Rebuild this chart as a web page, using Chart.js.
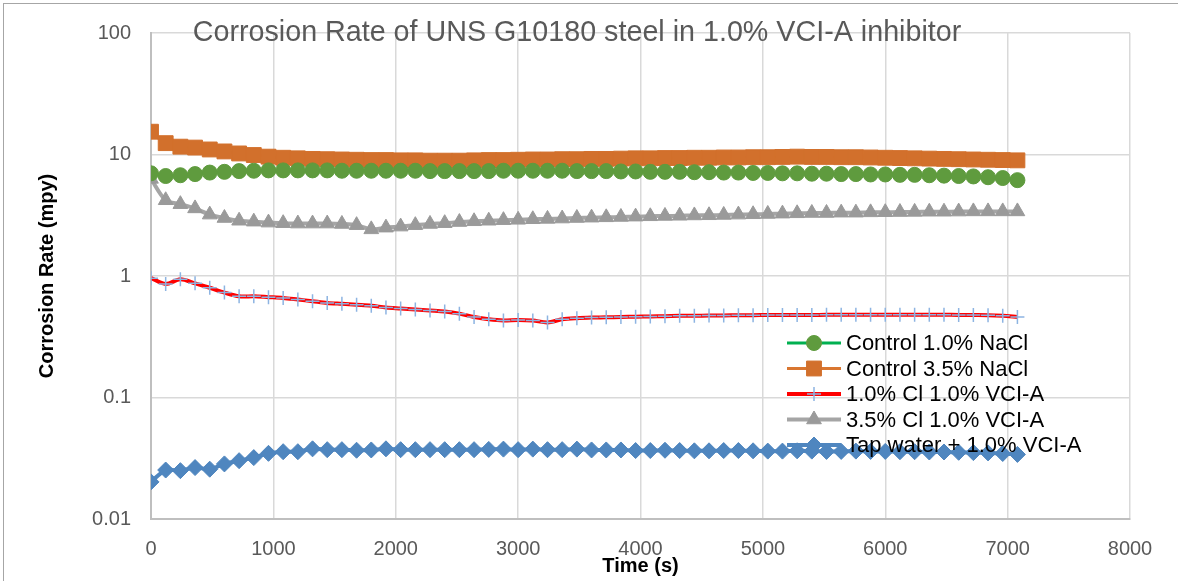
<!DOCTYPE html>
<html><head><meta charset="utf-8">
<script src="https://cdn.jsdelivr.net/npm/chart.js@4.4.0/dist/chart.umd.min.js"></script>
<style>html,body{margin:0;padding:0;background:#fff;}canvas{display:block;}</style>
</head><body>
<canvas id="c" width="1178" height="581"></canvas>
<script>
const chartTitle = 'Corrosion Rate of UNS G10180 steel in 1.0% VCI-A inhibitor';
const xTitle = 'Time (s)';
const yTitle = 'Corrosion Rate (mpy)';
const seriesNames = ['Control 1.0% NaCl','Control 3.5% NaCl','1.0% Cl 1.0% VCI-A','3.5% Cl 1.0% VCI-A','Tap water + 1.0% VCI-A'];
const yTickValues = [0.01, 0.1, 1, 10, 100];
const yTickLabels = ['0.01','0.1','1','10','100'];
const xTickValues = [0,1000,2000,3000,4000,5000,6000,7000,8000];
const xTickLabels = ['0','1000','2000','3000','4000','5000','6000','7000','8000'];
const timeS = [0,120,240,360,480,600,720,840,960,1080,1200,1320,1440,1560,1680,1800,1920,2040,2160,2280,2400,2520,2640,2760,2880,3000,3120,3240,3360,3480,3600,3720,3840,3960,4080,4200,4320,4440,4560,4680,4800,4920,5040,5160,5280,5400,5520,5640,5760,5880,6000,6120,6240,6360,6480,6600,6720,6840,6960,7080];
const control10 = [7.0,6.65,6.75,6.9,7.1,7.2,7.3,7.35,7.4,7.4,7.4,7.4,7.4,7.35,7.35,7.35,7.35,7.35,7.35,7.3,7.3,7.3,7.3,7.3,7.35,7.35,7.35,7.35,7.35,7.3,7.3,7.3,7.25,7.25,7.2,7.2,7.2,7.15,7.15,7.1,7.1,7.05,7.05,7.0,7.0,6.95,6.95,6.9,6.9,6.85,6.85,6.8,6.8,6.75,6.7,6.65,6.6,6.5,6.4,6.15];
const control35 = [15.4,12.4,11.6,11.4,11.0,10.6,10.2,9.9,9.6,9.4,9.3,9.2,9.15,9.1,9.05,9.0,9.0,8.95,8.95,8.9,8.9,8.9,8.95,9.0,9.0,9.05,9.1,9.1,9.15,9.15,9.2,9.2,9.25,9.3,9.3,9.35,9.35,9.4,9.4,9.45,9.45,9.5,9.5,9.55,9.6,9.55,9.55,9.5,9.5,9.45,9.4,9.35,9.3,9.25,9.2,9.15,9.1,9.05,9.0,8.95];
const cl10vci = [0.96,0.86,0.94,0.87,0.80,0.73,0.68,0.68,0.67,0.66,0.64,0.62,0.60,0.59,0.58,0.57,0.55,0.54,0.53,0.52,0.51,0.49,0.46,0.44,0.43,0.435,0.43,0.415,0.44,0.45,0.455,0.457,0.46,0.462,0.465,0.467,0.47,0.47,0.472,0.474,0.475,0.476,0.477,0.478,0.478,0.478,0.479,0.48,0.48,0.48,0.48,0.48,0.48,0.48,0.48,0.478,0.477,0.476,0.47,0.46];
const cl35vci = [6.3,4.2,3.9,3.6,3.2,3.0,2.85,2.8,2.75,2.72,2.7,2.7,2.7,2.68,2.62,2.42,2.5,2.55,2.62,2.68,2.72,2.78,2.82,2.85,2.88,2.9,2.93,2.95,2.97,3.0,3.02,3.04,3.06,3.08,3.1,3.12,3.13,3.15,3.16,3.18,3.2,3.22,3.24,3.26,3.28,3.3,3.3,3.32,3.32,3.34,3.35,3.36,3.37,3.38,3.38,3.39,3.4,3.4,3.4,3.4];
const tapWater = [0.0202,0.0253,0.025,0.0265,0.0257,0.0284,0.0302,0.032,0.0347,0.0358,0.0358,0.0378,0.0372,0.0372,0.0368,0.037,0.0378,0.0372,0.0372,0.0372,0.0372,0.0372,0.0372,0.0374,0.0376,0.0372,0.0376,0.0372,0.0372,0.0376,0.037,0.037,0.037,0.0366,0.0366,0.0368,0.0366,0.0364,0.0364,0.0366,0.0366,0.0364,0.0362,0.0362,0.0364,0.0362,0.036,0.036,0.0362,0.036,0.036,0.0358,0.0358,0.0356,0.0356,0.0354,0.0352,0.035,0.0346,0.034];

const FONT = "'Liberation Sans', Arial, sans-serif";
const toXY = arr => arr.map((v, i) => ({x: timeS[i], y: v}));

const styles = [
  {line:'#00B050', fill:'#5F9B3E', stroke:'#5F9B3E', pointStyle:'circle', r:7.5, lw:3, pbw:1},
  {line:'#D97630', fill:'#D2702C', stroke:'#D2702C', pointStyle:'rect', r:10.5, lw:3, pbw:1},
  {line:'#FF0000', fill:'#9DC3E6', stroke:'#8DB4E2', pointStyle:'cross', r:7, lw:4, pbw:1.5},
  {line:'#A5A5A5', fill:'#9A9A9A', stroke:'#9A9A9A', pointStyle:'triangle', r:8.5, lw:4, pbw:1},
  {line:'#4F86BF', fill:'#4F86BF', stroke:'#4F86BF', pointStyle:'rectRot', r:8, lw:4, pbw:1}
];
const seriesData = [control10, control35, cl10vci, cl35vci, tapWater];

const datasets = seriesData.map((d, k) => ({
  label: seriesNames[k],
  data: toXY(d),
  borderColor: styles[k].line,
  borderWidth: styles[k].lw,
  backgroundColor: styles[k].fill,
  pointBackgroundColor: styles[k].fill,
  pointBorderColor: styles[k].stroke,
  pointBorderWidth: styles[k].pbw,
  pointStyle: styles[k].pointStyle,
  pointRadius: styles[k].r,
  pointHoverRadius: styles[k].r,
  tension: 0.3,
  fill: false
}));

const decor = {
  id: 'decor',
  beforeDraw(chart) {
    const ctx = chart.ctx;
    ctx.save();
    ctx.fillStyle = '#fff';
    ctx.fillRect(0, 0, chart.width, chart.height);
    ctx.strokeStyle = '#A6A6A6';
    ctx.lineWidth = 1;
    ctx.strokeRect(3.5, 3.5, chart.width, chart.height);
    ctx.restore();
  },
  afterDatasetsDraw(chart) {
    const ctx = chart.ctx;
    ctx.save();
    ctx.font = '28.7px ' + FONT;
    ctx.fillStyle = '#595959';
    ctx.textAlign = 'center';
    ctx.textBaseline = 'alphabetic';
    ctx.fillText(chartTitle, 577, 41);
    // legend
    const x0 = 787, x1 = 841, mx = 814, tx = 846;
    const rows = [343, 368.5, 394, 419.5, 445];
    ctx.font = '22px ' + FONT;
    ctx.textAlign = 'left';
    ctx.textBaseline = 'middle';
    chart.data.datasets.forEach((ds, k) => {
      const y = rows[k];
      ctx.strokeStyle = ds.borderColor;
      ctx.lineWidth = ds.borderWidth;
      ctx.beginPath(); ctx.moveTo(x0, y); ctx.lineTo(x1, y); ctx.stroke();
      ctx.fillStyle = ds.pointBackgroundColor;
      ctx.strokeStyle = ds.pointBorderColor;
      ctx.lineWidth = ds.pointBorderWidth;
      Chart.helpers.drawPoint(ctx, {pointStyle: ds.pointStyle, radius: ds.pointRadius, rotation: 0, borderWidth: ds.pointBorderWidth}, mx, y);
      ctx.fillStyle = '#000';
      ctx.fillText(ds.label, tx, y + 1);
    });
    ctx.restore();
  }
};

new Chart(document.getElementById('c'), {
  type: 'line',
  data: {datasets},
  options: {
    responsive: false,
    animation: false,
    devicePixelRatio: 1,
    layout: {padding: {top: 33, right: 48, left: 0, bottom: 0}},
    plugins: {legend: {display: false}, title: {display: false}, tooltip: {enabled: false}},
    scales: {
      x: {
        type: 'linear', min: 0, max: 8000,
        afterBuildTicks(s) { s.ticks = xTickValues.map(v => ({value: v})); },
        ticks: {color: '#595959', font: {family: FONT, size: 20}, padding: 18, maxRotation: 0,
          callback: (v) => { const i = xTickValues.indexOf(v); return i >= 0 ? xTickLabels[i] : ''; }},
        grid: {color: '#D9D9D9', lineWidth: 1.5, drawTicks: false},
        border: {color: '#BFBFBF', width: 2},
        title: {display: true, text: xTitle, color: '#000', font: {family: FONT, size: 20, weight: 'bold'}, padding: {top: 0, bottom: 3}},
        afterFit(s) { s.height = 62; }
      },
      y: {
        type: 'logarithmic', min: 0.01, max: 100,
        afterBuildTicks(s) { s.ticks = yTickValues.map(v => ({value: v})); },
        ticks: {color: '#595959', font: {family: FONT, size: 20}, padding: 20,
          callback: (v) => { const i = yTickValues.indexOf(v); return i >= 0 ? yTickLabels[i] : ''; }},
        grid: {color: '#D9D9D9', lineWidth: 1.5, drawTicks: false},
        border: {color: '#BFBFBF', width: 2},
        title: {display: true, text: yTitle, color: '#000', font: {family: FONT, size: 20, weight: 'bold'}, padding: {top: 35, bottom: 0}},
        afterFit(s) { s.width = 151; }
      }
    }
  },
  plugins: [decor]
});
</script>
</body></html>
